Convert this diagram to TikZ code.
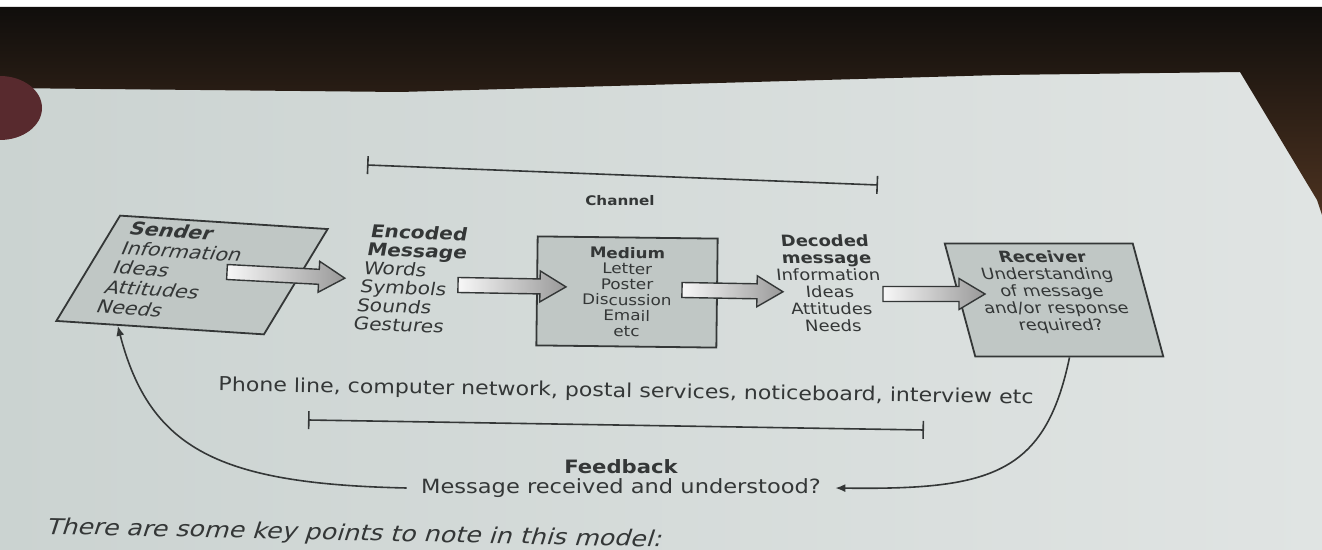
\documentclass[tikz,border=0pt]{standalone}
\usepackage{fontspec}
\setmainfont{DejaVu Sans}[FakeStretch=1.15]
\usetikzlibrary{arrows.meta,calc,positioning}

\definecolor{pageL}{RGB}{203,211,209}
\definecolor{pageR}{RGB}{224,228,227}
\definecolor{inkcol}{RGB}{52,55,55}
\definecolor{boxfill}{RGB}{192,199,197}
\definecolor{darktop}{RGB}{16,14,12}
\definecolor{darkbrown}{RGB}{76,50,32}
\definecolor{blobcol}{RGB}{88,42,46}

\begin{document}
\begin{tikzpicture}[x=0.5pt,y=-0.5pt,
  txt/.style={text=inkcol, inner sep=0pt},
  msgbox/.style={draw=inkcol, line width=0.9pt, fill=boxfill, text=inkcol, transform shape},
  blockarrow/.style={draw=inkcol, line width=0.7pt, left color=white!94!gray, right color=gray!80},
  spanline/.style={draw=inkcol, line width=0.8pt, {Bar[width=9pt]}-{Bar[width=9pt]}},
  fbline/.style={draw=inkcol, line width=0.8pt, -{Latex[length=5pt,width=4pt]}}]
\useasboundingbox (0,0) rectangle (1322,550);
% photo background
\shade[left color=pageL, right color=pageR] (0,0) rectangle (1322,550);
\fill[white] (0,0) rectangle (1322,7);
\shade[top color=darktop, bottom color=darkbrown] (0,7) -- (1322,7) -- (1322,215) -- (1317,200) -- (1240,72) -- (1000,75) -- (400,92) -- (0,88) -- cycle;
\fill[blobcol] (0,108) ellipse [x radius=42, y radius=32];

% boxes and their texts
\node[msgbox, rotate=-3.7, xslant=0.52, minimum width=104pt, minimum height=54.6pt] (sender) at (192,275) {};
\node[txt, rotate=-3.7, xslant=0.35, transform shape, align=left, text width=78pt, font=\fontsize{9}{10}\selectfont] (sendertxt) at ([yshift=1.5pt]sender.center) {\textbf{Sender}\\Information\\Ideas\\Attitudes\\Needs};
\node[txt, rotate=-2, xslant=0.15, transform shape, anchor=west, align=left, font=\fontsize{8.8}{9.3}\selectfont] (encoded) at (362,277) {\textbf{Encoded}\\\textbf{Message}\\Words\\Symbols\\Sounds\\Gestures};
\node[msgbox, rotate=-0.7, minimum width=90pt, minimum height=54.5pt, align=center, font=\fontsize{7.3}{7.8}\selectfont] (medium) at (627,292) {\textbf{Medium}\\Letter\\Poster\\Discussion\\Email\\etc};
\node[txt, xslant=-0.1, transform shape, align=center, font=\fontsize{7.8}{8.5}\selectfont] (decoded) at (829,283) {\textbf{Decoded}\\\textbf{message}\\Information\\Ideas\\Attitudes\\Needs};
\node[msgbox, xslant=-0.27, minimum width=94pt, minimum height=56.5pt, align=center, font=\fontsize{7.75}{8.5}\selectfont] (receiver) at (1054,300) {\textbf{Receiver}\\Understanding\\of message\\and/or response\\required?\\[1pt]};

% block arrows between the stages
\foreach \x/\y/\len/\r in {227/272/118/-3, 458/285/108/-1, 682/290/101/-1, 883/294/102/0}
  \shadedraw[blockarrow, shift={(\x,\y)}, rotate=\r] (0,-7.5) -- (\len-26,-7.5) -- (\len-26,-15.5) -- (\len,0) -- (\len-26,15.5) -- (\len-26,7.5) -- (0,7.5) -- cycle;

% channel span
\coordinate (chanL) at (367,165);
\coordinate (chanR) at (878,185);
\draw[spanline] (chanL) -- (chanR);
\node[txt, font=\bfseries\fontsize{6.6}{7}\selectfont] (channel) at (620,201) {Channel};

% carriers span
\node[txt, rotate=-0.9, transform shape, font=\fontsize{9.6}{10}\selectfont] (carriers) at (626,392) {Phone line, computer network, postal services, noticeboard, interview etc};
\coordinate (lowL) at (308,420);
\coordinate (lowR) at (924,430);
\draw[spanline] (lowL) -- (lowR);

% feedback loop
\node[txt, inner xsep=7pt, font=\fontsize{9.8}{10}\selectfont] (msg) at (621,488) {Message received and understood?};
\node[txt, font=\bfseries\fontsize{9.2}{10}\selectfont, above=2pt of msg] (feedback) {Feedback};
\draw[fbline] (receiver.south) .. controls (1045,475) and (990,490) .. (msg.east);
\draw[fbline] (msg.west) .. controls (220,484) and (150,450) .. ($(sender.south west)!0.3!(sender.south east)$);

\node[txt, anchor=base west, rotate=-1.2, xslant=0.3, transform shape, font=\fontsize{11}{12}\selectfont] (note) at (45,534) {There are some key points to note in this model:};
\end{tikzpicture}
\end{document}
